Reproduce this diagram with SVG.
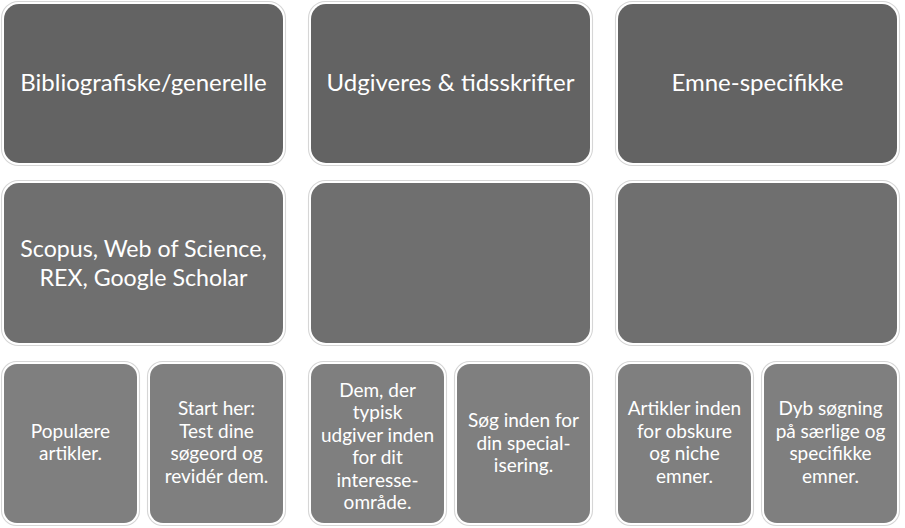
<svg xmlns="http://www.w3.org/2000/svg" width="905" height="528" viewBox="0 0 905 528">
<style>
.o{fill:none;stroke:#d6d6d6;stroke-width:1.1}
.t{fill:#636363}
.m{fill:#6f6f6f}
.b{fill:#7f7f7f}
text{font-family:Lato,"Open Sans","DejaVu Sans",sans-serif;fill:#fff;text-anchor:middle}
.h{font-size:24px}
.h2{font-size:23.2px}
.s{font-size:19px}
</style>
<rect width="905" height="528" fill="#fff"/>
<g id="col1-top"><rect class="o" x="1.5" y="1.5" width="284" height="164" rx="17"/><rect class="t" x="4" y="4" width="279" height="159" rx="15"/><text class="h" x="143.5" y="91">Bibliografiske/generelle</text></g>
<g id="col2-top"><rect class="o" x="308.5" y="1.5" width="284" height="164" rx="17"/><rect class="t" x="311" y="4" width="279" height="159" rx="15"/><text class="h" x="450.5" y="91">Udgiveres &amp; tidsskrifter</text></g>
<g id="col3-top"><rect class="o" x="615.5" y="1.5" width="284" height="164" rx="17"/><rect class="t" x="618" y="4" width="279" height="159" rx="15"/><text class="h" x="757.5" y="91">Emne-specifikke</text></g>
<g id="col1-mid"><rect class="o" x="1.5" y="180.5" width="284" height="165" rx="17"/><rect class="m" x="4" y="183" width="279" height="160" rx="15"/><text class="h2" x="143.5" y="257">Scopus, Web of Science,</text><text class="h2" x="143.5" y="286">REX, Google Scholar</text></g>
<g id="col2-mid"><rect class="o" x="308.5" y="180.5" width="284" height="165" rx="17"/><rect class="m" x="311" y="183" width="279" height="160" rx="15"/></g>
<g id="col3-mid"><rect class="o" x="615.5" y="180.5" width="284" height="165" rx="17"/><rect class="m" x="618" y="183" width="279" height="160" rx="15"/></g>
<g id="col1-a"><rect class="o" x="1.5" y="361.5" width="138" height="164" rx="15"/><rect class="b" x="4" y="364" width="133" height="159" rx="13"/><text class="s" x="70.5" y="437.5">Populære</text><text class="s" x="70.5" y="460">artikler.</text></g>
<g id="col1-b"><rect class="o" x="147.5" y="361.5" width="138" height="164" rx="15"/><rect class="b" x="150" y="364" width="133" height="159" rx="13"/><text class="s" x="216.5" y="415">Start her:</text><text class="s" x="216.5" y="437.5">Test dine</text><text class="s" x="216.5" y="460">søgeord og</text><text class="s" x="216.5" y="482.5">revidér dem.</text></g>
<g id="col2-a"><rect class="o" x="308.5" y="361.5" width="138" height="164" rx="15"/><rect class="b" x="311" y="364" width="133" height="159" rx="13"/><text class="s" x="377.5" y="397">Dem, der</text><text class="s" x="377.5" y="419.4">typisk</text><text class="s" x="377.5" y="441.8">udgiver inden</text><text class="s" x="377.5" y="464.2">for dit</text><text class="s" x="377.5" y="486.6">interesse-</text><text class="s" x="377.5" y="509">område.</text></g>
<g id="col2-b"><rect class="o" x="454.5" y="361.5" width="138" height="164" rx="15"/><rect class="b" x="457" y="364" width="133" height="159" rx="13"/><text class="s" x="523.5" y="427">Søg inden for</text><text class="s" x="523.5" y="449.5">din special-</text><text class="s" x="523.5" y="472">isering.</text></g>
<g id="col3-a"><rect class="o" x="615.5" y="361.5" width="138" height="164" rx="15"/><rect class="b" x="618" y="364" width="133" height="159" rx="13"/><text class="s" x="684.5" y="415">Artikler inden</text><text class="s" x="684.5" y="437.5">for obskure</text><text class="s" x="684.5" y="460">og niche</text><text class="s" x="684.5" y="482.5">emner.</text></g>
<g id="col3-b"><rect class="o" x="761.5" y="361.5" width="138" height="164" rx="15"/><rect class="b" x="764" y="364" width="133" height="159" rx="13"/><text class="s" x="830.5" y="415">Dyb søgning</text><text class="s" x="830.5" y="437.5">på særlige og</text><text class="s" x="830.5" y="460">specifikke</text><text class="s" x="830.5" y="482.5">emner.</text></g>
<g id="connectors"></g>
</svg>
